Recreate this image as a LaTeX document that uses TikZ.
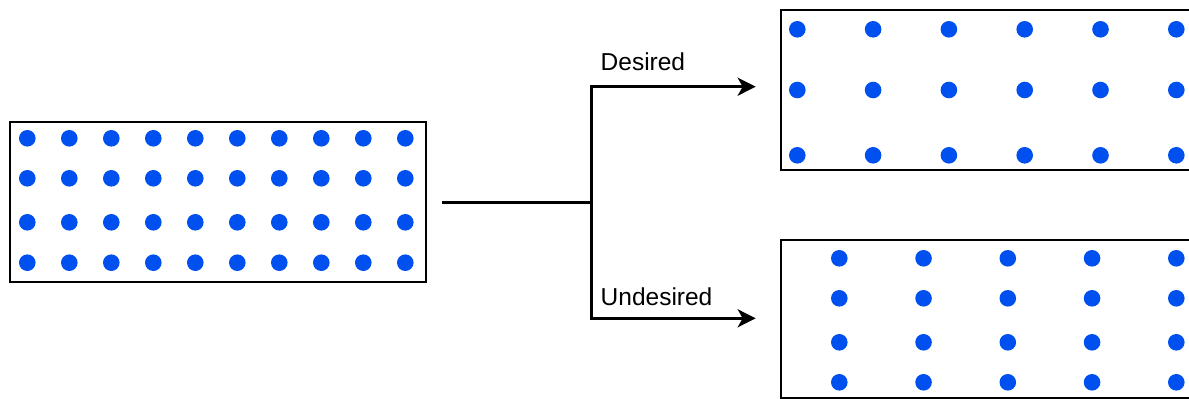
\documentclass[tikz,border=0pt]{standalone}
\usepackage{fontspec}
\setmainfont{Liberation Sans}
\usepackage{xcolor}
\usepackage{tikz}
\usetikzlibrary{arrows.meta}
\definecolor{dotblue}{HTML}{0050EF}

\begin{document}
\begin{tikzpicture}[x=1pt,y=-1pt,
  grid/.style={draw, line width=2pt, inner sep=0pt},
  flow/.style={line width=3pt},
  tag/.style={font=\fontsize{24.5pt}{28pt}\selectfont, inner sep=0pt, anchor=base west}]
\clip (0,0) rectangle (1189,399);
%
\node[grid, minimum width=416pt, minimum height=160pt] (src) at (218,201.6) {};
\node[grid, minimum width=440pt, minimum height=159.7pt] (good) at (1000.7,90.2) {};
\node[grid, minimum width=440pt, minimum height=158.3pt] (bad) at (1000.7,319.2) {};
%
\foreach \i in {0,...,9}
  \foreach \y in {138.3,178.3,222.3,262.7}
    \fill[dotblue] (27.3+42*\i,\y) circle (8.3pt);
%
\foreach \i in {0,...,5}
  \foreach \y in {29.3,90,155.3}
    \fill[dotblue] (797.3+75.8*\i,\y) circle (8.3pt);
%
\foreach \i in {0,...,4}
  \foreach \y in {258.3,298.3,342.3,382.3}
    \fill[dotblue] (839.3+84.25*\i,\y) circle (8.3pt);
%
\coordinate (split) at (591.7,202.7);
\draw[flow, shorten <=15pt] (src.east |- split) -- (split);
\draw[flow, -{Stealth[length=18pt,width=18pt,inset=5pt]}, shorten >=24pt] (split) |- ([yshift=3.5pt]good.west);
\draw[flow, -{Stealth[length=18pt,width=18pt,inset=5pt]}, shorten >=24pt] (split) |- ([yshift=0.9pt]bad.west);
%
\node[tag] (up) at (600.5,70) {Desired};
\node[tag] (down) at (600.5,305) {Undesired};
\end{tikzpicture}
\end{document}
